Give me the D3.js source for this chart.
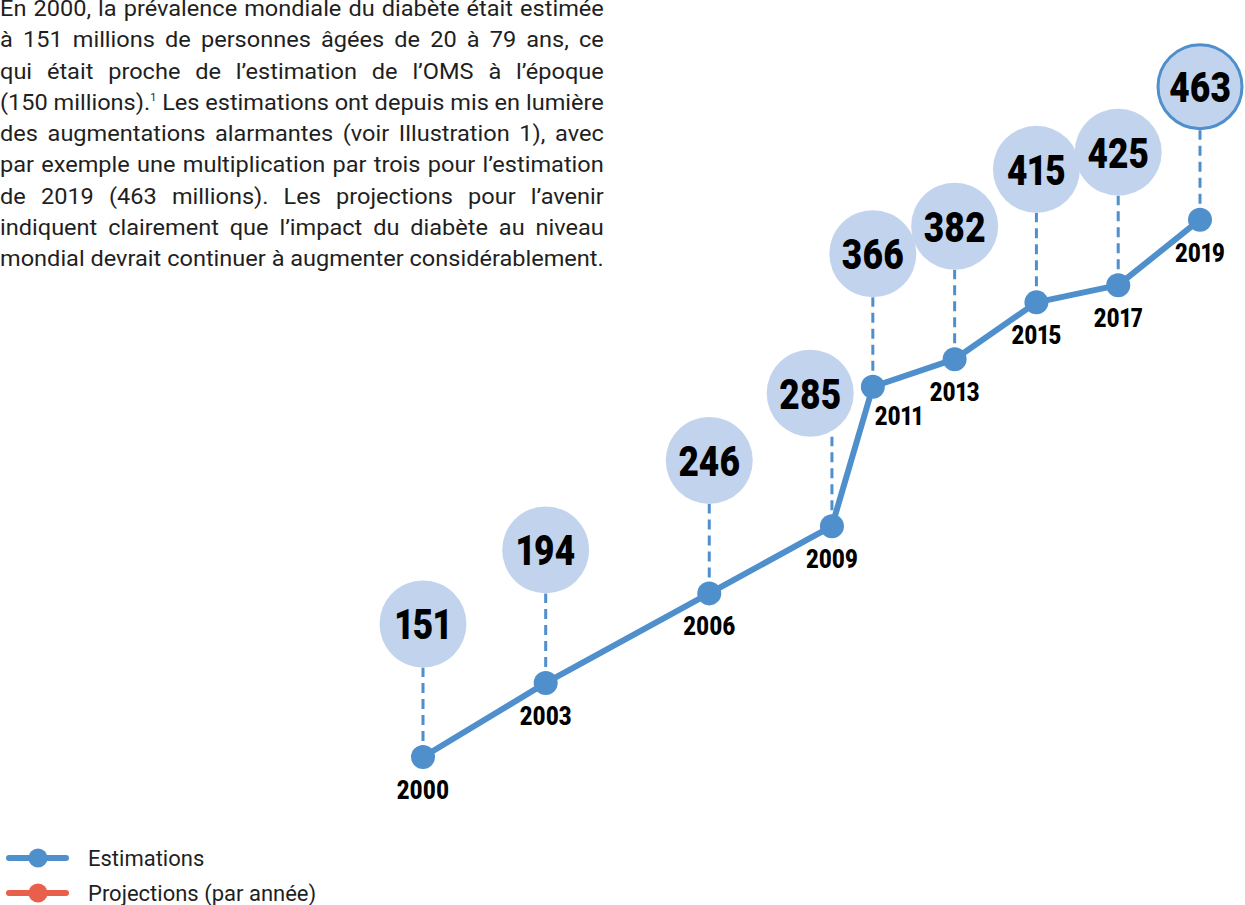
<!DOCTYPE html>
<html>
<head>
<meta charset="utf-8">
<script src="https://cdn.jsdelivr.net/npm/d3@7"></script>
<style>
  html, body { margin: 0; padding: 0; background: #fff; }
  svg { display: block; }
</style>
</head>
<body>
<svg id="chart"></svg>
<script>
// Atlas editions, the year each estimate refers to, and the estimate (millions)
const editions = ["2000", "2003", "2006", "2009", "2011", "2013", "2015", "2017", "2019"];
const refYears = [2000, 2003, 2007, 2010, 2011, 2013, 2015, 2017, 2019];
const estimates = [151, 194, 246, 285, 366, 382, 415, 425, 463];

const legendLabels = ["Estimations", "Projections (par année)"];

const paragraphLines = [
  "En 2000, la prévalence mondiale du diabète était estimée",
  "à 151 millions de personnes âgées de 20 à 79 ans, ce",
  "qui était proche de l’estimation de l’OMS à l’époque",
  "(150 millions).| Les estimations ont depuis mis en lumière",
  "des augmentations alarmantes (voir Illustration 1), avec",
  "par exemple une multiplication par trois pour l’estimation",
  "de 2019 (463 millions). Les projections pour l’avenir",
  "indiquent clairement que l’impact du diabète au niveau",
  "mondial devrait continuer à augmenter considérablement."
];

const width = 1245, height = 905;
const blue = "#4f8fcc", pale = "#c2d4ed", red = "#e8604c";

const svg = d3.select("#chart").attr("width", width).attr("height", height);

// ---- paragraph: stretched so the last (full) line fills the column, then every line justified
const textWidth = 604;
const para = svg.append("g").attr("font-family", "Roboto, sans-serif")
  .attr("font-size", 21.5).attr("fill", "#1f1f1f");
const lines = paragraphLines.map((line, i) => {
  const t = para.append("text").attr("x", 0).attr("y", 16 + i * 31.3);
  const parts = line.split("|");
  t.append("tspan").text(parts[0]);
  if (parts.length > 1) {
    t.append("tspan").attr("font-size", 10).attr("dy", -9).text("1");
    t.append("tspan").attr("dy", 9).text(parts[1]);
  }
  return { t, line, natural: t.node().getComputedTextLength() };
});
const stretch = textWidth / lines[lines.length - 1].natural;
para.attr("transform", `scale(${stretch},1)`);
lines.forEach(({ t, line, natural }) => {
  const spaces = (line.match(/ /g) || []).length;
  if (spaces > 0) t.attr("word-spacing", (textWidth / stretch - natural) / spaces);
});

// ---- scales
const x = d3.scaleLinear().domain([2000, 2019]).range([423, 1200]);
const y = d3.scaleLinear().domain([0, 500]).range([1017, 156]);

const points = estimates.map((v, i) => ({
  label: editions[i], value: v, px: x(refYears[i]), py: y(v)
}));
// a segment counts as steep when it climbs much faster than it moves right
const steep = (a, b) => a && b && Math.abs((b.py - a.py) / (b.px - a.px)) > 2;

const r = 43.5, stem = 133;

// ---- connecting line
svg.append("path")
  .datum(points)
  .attr("fill", "none")
  .attr("stroke", blue)
  .attr("stroke-width", 6)
  .attr("stroke-linejoin", "round")
  .attr("d", d3.line().x(d => d.px).y(d => d.py));

// ---- dashed stems
svg.append("g").selectAll("line")
  .data(points)
  .join("line")
  .attr("x1", d => d.px).attr("x2", d => d.px)
  .attr("y1", d => d.py).attr("y2", d => d.py - stem + r)
  .attr("stroke", blue)
  .attr("stroke-width", 3)
  .attr("stroke-dasharray", "10,6");

// ---- bubbles
const bubbles = svg.append("g").selectAll("g")
  .data(points)
  .join("g")
  .attr("transform", (d, i) => {
    const shift = steep(d, points[i + 1]) ? -r / 2 : 0;
    return `translate(${d.px + shift},${d.py - stem})`;
  });
bubbles.append("circle")
  .attr("r", (d, i) => i === points.length - 1 ? r - 1.5 : r)
  .attr("fill", pale)
  .attr("stroke", (d, i) => i === points.length - 1 ? blue : "none")
  .attr("stroke-width", 3);
bubbles.append("text")
  .attr("transform", "scale(0.82,1)")
  .attr("y", 15.5)
  .attr("text-anchor", "middle")
  .attr("font-family", "Roboto, sans-serif")
  .attr("font-weight", 900)
  .attr("font-size", 43)
  .style("font-variant-numeric", "proportional-nums")
  .attr("fill", "#000")
  .text(d => d.value);

// ---- dots
svg.append("g").selectAll("circle")
  .data(points)
  .join("circle")
  .attr("cx", d => d.px).attr("cy", d => d.py)
  .attr("r", 12)
  .attr("fill", blue);

// ---- year labels
svg.append("g").selectAll("g")
  .data(points)
  .join("g")
  .attr("transform", (d, i) => steep(points[i - 1], d)
    ? `translate(${d.px + 2},${d.py + 38})`
    : `translate(${d.px},${d.py + 42})`)
  .append("text")
  .attr("transform", "scale(0.88,1)")
  .attr("text-anchor", (d, i) => steep(points[i - 1], d) ? "start" : "middle")
  .attr("font-family", "Roboto, sans-serif")
  .attr("font-weight", 900)
  .attr("font-size", 25)
  .style("font-variant-numeric", "proportional-nums")
  .attr("fill", "#000")
  .text(d => d.label);

// ---- legend
const legend = svg.append("g").selectAll("g")
  .data(legendLabels)
  .join("g")
  .attr("transform", (d, i) => `translate(0,${858 + i * 35})`);
legend.append("line")
  .attr("x1", 9).attr("x2", 66)
  .attr("stroke", (d, i) => i === 0 ? blue : red)
  .attr("stroke-width", 6)
  .attr("stroke-linecap", "round");
legend.append("circle")
  .attr("cx", 38).attr("r", 9.5)
  .attr("fill", (d, i) => i === 0 ? blue : red);
legend.append("text")
  .attr("x", 88).attr("y", 8)
  .attr("font-family", "Roboto, sans-serif")
  .attr("font-size", 22)
  .attr("fill", "#1f1f1f")
  .text(d => d);
</script>
</body>
</html>
